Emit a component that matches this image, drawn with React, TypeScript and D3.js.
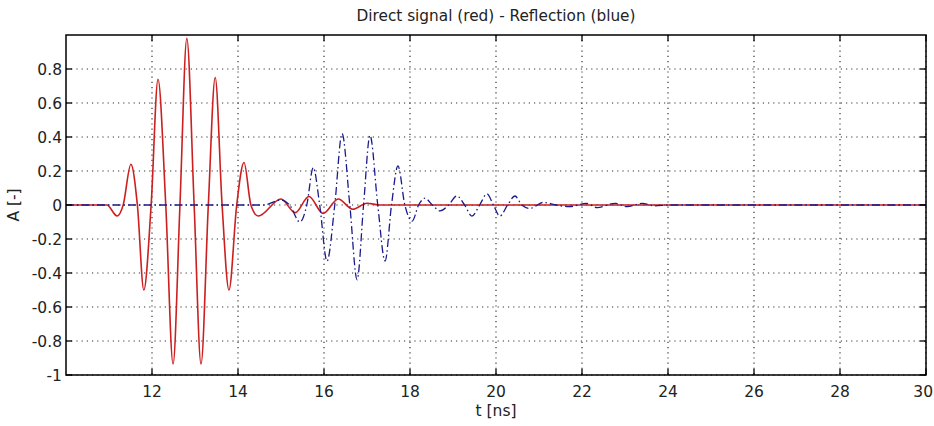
import React, { useEffect, useRef } from "react";
import * as d3 from "d3";

// direct signal (red): [t ns, amplitude] at extremes / crossings
const directT = [10, 10.95, 11.19, 11.33, 11.51, 11.66, 11.81, 11.98, 12.14, 12.32, 12.49, 12.65, 12.81, 12.98, 13.14, 13.31, 13.47, 13.63, 13.79, 13.97, 14.14, 14.3, 14.47, 15.0, 15.33, 15.65, 15.98, 16.33, 16.67, 17.0, 17.3, 30];
const directA = [0, 0, -0.065, 0, 0.24, 0, -0.5, 0, 0.74, 0, -0.935, 0, 0.98, 0, -0.935, 0, 0.75, 0, -0.5, 0, 0.25, 0, -0.065, 0.035, -0.045, 0.05, -0.05, 0.035, -0.025, 0.01, 0, 0];

// reflection (blue)
const reflT = [10, 14.6, 15.0, 15.2, 15.44, 15.6, 15.75, 15.9, 16.07, 16.25, 16.42, 16.6, 16.77, 16.92, 17.07, 17.25, 17.42, 17.57, 17.72, 17.88, 18.05, 18.2, 18.35, 18.52, 18.7, 18.9, 19.09, 19.27, 19.44, 19.62, 19.79, 19.94, 20.09, 20.27, 20.44, 20.6, 20.79, 21.1, 21.4, 21.7, 22.1, 22.35, 22.77, 23.05, 23.4, 23.7, 24, 30];
const reflA = [0, 0, 0.03, 0, -0.1, 0, 0.22, 0, -0.33, 0, 0.42, 0, -0.44, 0, 0.41, 0, -0.33, 0, 0.23, 0, -0.095, 0, 0.04, 0, -0.035, 0, 0.053, 0, -0.065, 0, 0.065, 0, -0.065, 0, 0.053, 0, -0.02, 0.015, 0, -0.01, 0.01, -0.015, 0.01, -0.01, 0.01, -0.005, 0, 0];

const xTicks = [12, 14, 16, 18, 20, 22, 24, 26, 28, 30];
const yTicks = [-1, -0.8, -0.6, -0.4, -0.2, 0, 0.2, 0.4, 0.6, 0.8];

const W = 934;
const H = 426;
const m = { left: 66, right: 8, top: 35, bottom: 51 };

export default function App() {
  const ref = useRef<SVGSVGElement>(null);

  useEffect(() => {
    document.body.style.margin = "0";
    const svg = d3.select(ref.current);
    svg.selectAll("*").remove();

    const x = d3.scaleLinear().domain([10, 30]).range([m.left, W - m.right]);
    const y = d3.scaleLinear().domain([-1, 1]).range([H - m.bottom, m.top]);
    const font = "'DejaVu Sans', Verdana, sans-serif";
    const ink = "#222";

    svg.append("rect").attr("width", W).attr("height", H).attr("fill", "#fff");

    const g = svg.append("g");

    // grid
    g.selectAll(".gx")
      .data(xTicks)
      .enter()
      .append("line")
      .attr("x1", (d) => x(d))
      .attr("x2", (d) => x(d))
      .attr("y1", y(1))
      .attr("y2", y(-1))
      .attr("stroke", "#333")
      .attr("stroke-width", 1.2)
      .attr("stroke-dasharray", "1.2,4");
    g.selectAll(".gy")
      .data(yTicks)
      .enter()
      .append("line")
      .attr("x1", x(10))
      .attr("x2", x(30))
      .attr("y1", (d) => y(d))
      .attr("y2", (d) => y(d))
      .attr("stroke", "#333")
      .attr("stroke-width", 1.2)
      .attr("stroke-dasharray", "1.2,4");

    // lines
    const line = d3
      .line<[number, number]>()
      .x((d) => x(d[0]))
      .y((d) => y(d[1]))
      .curve(d3.curveMonotoneX);

    const direct: [number, number][] = directT.map((t, i) => [t, directA[i]]);
    const refl: [number, number][] = reflT.map((t, i) => [t, reflA[i]]);

    g.append("path")
      .attr("d", line(direct))
      .attr("fill", "none")
      .attr("stroke", "#cc1f1f")
      .attr("stroke-width", 1.6);

    g.append("path")
      .attr("d", line(refl))
      .attr("fill", "none")
      .attr("stroke", "#1a1a8c")
      .attr("stroke-width", 1.3)
      .attr("stroke-dasharray", "8,3,1.5,3");

    // axes box
    g.append("rect")
      .attr("x", x(10))
      .attr("y", y(1))
      .attr("width", x(30) - x(10))
      .attr("height", y(-1) - y(1))
      .attr("fill", "none")
      .attr("stroke", "#000")
      .attr("stroke-width", 1.5);

    // inward ticks on all sides
    const tl = 6;
    xTicks.forEach((t) => {
      g.append("line").attr("x1", x(t)).attr("x2", x(t)).attr("y1", y(-1)).attr("y2", y(-1) - tl).attr("stroke", "#000").attr("stroke-width", 1.3);
      g.append("line").attr("x1", x(t)).attr("x2", x(t)).attr("y1", y(1)).attr("y2", y(1) + tl).attr("stroke", "#000").attr("stroke-width", 1.3);
    });
    yTicks.forEach((v) => {
      g.append("line").attr("x1", x(10)).attr("x2", x(10) + tl).attr("y1", y(v)).attr("y2", y(v)).attr("stroke", "#000").attr("stroke-width", 1.3);
      g.append("line").attr("x1", x(30)).attr("x2", x(30) - tl).attr("y1", y(v)).attr("y2", y(v)).attr("stroke", "#000").attr("stroke-width", 1.3);
    });

    // tick labels (last one pulled in so it stays on the page)
    const lastX = xTicks[xTicks.length - 1];
    g.selectAll(".xl")
      .data(xTicks)
      .enter()
      .append("text")
      .attr("x", (d) => (d === lastX ? W - 1 : x(d)))
      .attr("y", y(-1) + 22)
      .attr("text-anchor", (d) => (d === lastX ? "end" : "middle"))
      .attr("font-family", font)
      .attr("font-size", 15.5)
      .attr("fill", ink)
      .text((d) => String(d));
    g.selectAll(".yl")
      .data(yTicks)
      .enter()
      .append("text")
      .attr("x", x(10) - 4)
      .attr("y", (d) => y(d))
      .attr("dy", "0.36em")
      .attr("text-anchor", "end")
      .attr("font-family", font)
      .attr("font-size", 15.5)
      .attr("fill", ink)
      .text((d) => String(d));

    // title + labels
    svg.append("text")
      .attr("x", (x(10) + x(30)) / 2)
      .attr("y", 21)
      .attr("text-anchor", "middle")
      .attr("font-family", font)
      .attr("font-size", 15.3)
      .attr("fill", ink)
      .text("Direct signal (red) - Reflection (blue)");
    svg.append("text")
      .attr("x", (x(10) + x(30)) / 2)
      .attr("y", 416)
      .attr("text-anchor", "middle")
      .attr("font-family", font)
      .attr("font-size", 15.5)
      .attr("fill", ink)
      .text("t [ns]");
    svg.append("text")
      .attr("transform", `translate(19, ${y(0)}) rotate(-90)`)
      .attr("text-anchor", "middle")
      .attr("font-family", font)
      .attr("font-size", 15.5)
      .attr("fill", ink)
      .text("A [-]");
  }, []);

  return <svg ref={ref} width={W} height={H} style={{ display: "block" }} />;
}
